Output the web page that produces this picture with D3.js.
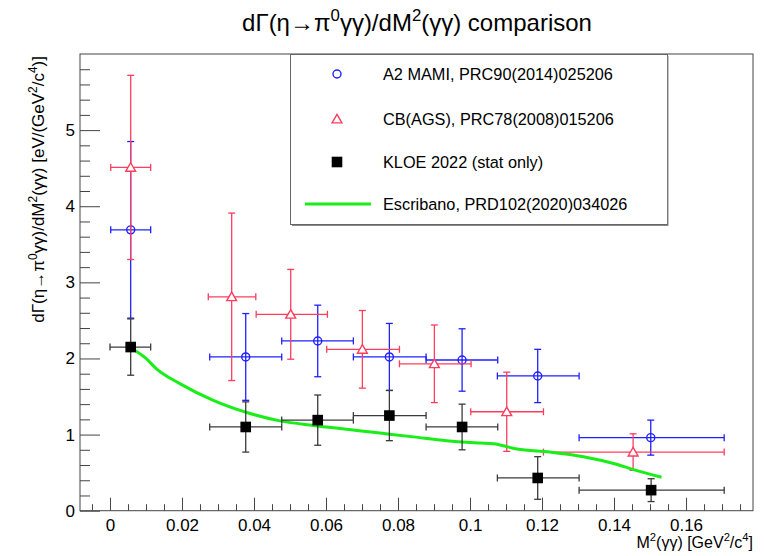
<!DOCTYPE html>
<html>
<head>
<meta charset="utf-8">
<script src="https://cdn.jsdelivr.net/npm/d3@7"></script>
<style>
  body { margin: 0; background: #fff; }
  text { font-family: "Liberation Sans", Arial, Helvetica, sans-serif; fill: #000; }
</style>
</head>
<body>
<div id="chart"></div>
<script>
const width = 765;
const height = 556;

// A2 MAMI, PRC90(2014)025206
const a2X = [0.00575, 0.0377, 0.0577, 0.0776, 0.0978, 0.1188, 0.1502];
const a2Y = [3.69, 2.02, 2.23, 2.02, 1.98, 1.77, 0.96];
const a2XLo = [0.0002, 0.0277, 0.0477, 0.0676, 0.0878, 0.1076, 0.1303];
const a2XHi = [0.0113, 0.0477, 0.0676, 0.0878, 0.1077, 0.1303, 0.1706];
const a2YErr = [1.16, 0.57, 0.47, 0.44, 0.41, 0.35, 0.23];

// CB(AGS), PRC78(2008)015206
const cbX = [0.00575, 0.0338, 0.0502, 0.0701, 0.0901, 0.1102, 0.1453];
const cbY = [4.51, 2.81, 2.58, 2.12, 1.93, 1.30, 0.77];
const cbXLo = [0.0002, 0.0273, 0.0406, 0.0602, 0.0804, 0.1002, 0.1204];
const cbXHi = [0.0113, 0.0405, 0.0604, 0.0804, 0.1003, 0.1204, 0.1706];
const cbYErr = [1.21, 1.10, 0.59, 0.51, 0.51, 0.52, 0.24];

// KLOE 2022 (stat only)
const kloeX = [0.00575, 0.0377, 0.0577, 0.0776, 0.0978, 0.1188, 0.1503];
const kloeY = [2.15, 1.10, 1.19, 1.25, 1.10, 0.43, 0.27];
const kloeXLo = [0.0, 0.0277, 0.0477, 0.0676, 0.0878, 0.1076, 0.1303];
const kloeXHi = [0.0113, 0.0477, 0.0676, 0.0878, 0.1077, 0.1303, 0.1706];
const kloeYErr = [0.37, 0.33, 0.33, 0.33, 0.30, 0.28, 0.15];

// Escribano, PRD102(2020)034026
const theoryX = [0.0057, 0.010, 0.013, 0.0194, 0.0287, 0.038, 0.0472, 0.0565, 0.0657, 0.075,
  0.0843, 0.0935, 0.1028, 0.1065, 0.113, 0.1222, 0.1315, 0.1407, 0.1454, 0.1532];
const theoryY = [2.14, 2.00, 1.86, 1.67, 1.45, 1.29, 1.18, 1.12, 1.07, 1.02,
  0.97, 0.92, 0.89, 0.88, 0.81, 0.77, 0.71, 0.61, 0.54, 0.44];

const xMajorTicks = [0, 0.02, 0.04, 0.06, 0.08, 0.1, 0.12, 0.14, 0.16];
const xTickLabels = ['0', '0.02', '0.04', '0.06', '0.08', '0.1', '0.12', '0.14', '0.16'];
const yMajorTicks = [0, 1, 2, 3, 4, 5];

const legendLabels = ['A2 MAMI, PRC90(2014)025206', 'CB(AGS), PRC78(2008)015206',
  'KLOE 2022 (stat only)', 'Escribano, PRD102(2020)034026'];

const blue = '#2020ff';
const red = '#ff3d5f';
const grey = '#3a3a3a';
const green = '#19ee19';

const frame = { left: 80, right: 753, top: 54, bottom: 510.7 };

const x = d3.scaleLinear().domain([-0.00833, 0.1786]).range([frame.left, frame.right]);
const y = d3.scaleLinear().domain([0, 6]).range([frame.bottom, frame.top]);

const svg = d3.select('#chart')
  .append('svg')
    .attr('width', width)
    .attr('height', height);

// text with superscripts: parts = [[string, isSup], ...]
function rich(sel, parts, size) {
  const shift = size * 0.42;
  let up = false;
  parts.forEach(([s, sup]) => {
    const t = sel.append('tspan').text(s);
    if (sup) {
      t.attr('font-size', size * 0.7).attr('dy', -shift);
      up = true;
    } else if (up) {
      t.attr('dy', shift);
      up = false;
    }
  });
  return sel;
}

// title
rich(svg.append('text')
    .attr('x', 417)
    .attr('y', 31)
    .attr('text-anchor', 'middle')
    .attr('font-size', 24),
  [['dΓ(η→π'], ['0', true], ['γγ)/dM'], ['2', true], ['(γγ) comparison']], 24);

// minor ticks
const xMinor = d3.range(-0.005, 0.1751, 0.005).filter(v => Math.abs(v / 0.02 - Math.round(v / 0.02)) > 1e-6);
const yMinor = d3.range(0.2, 5.9, 0.2).filter(v => Math.abs(v - Math.round(v)) > 1e-6);

svg.append('g')
  .attr('transform', `translate(0,${frame.bottom})`)
  .call(d3.axisBottom(x).tickValues(xMinor).tickSize(-6.5).tickFormat(''));
svg.append('g')
  .attr('transform', `translate(0,${frame.bottom})`)
  .call(d3.axisBottom(x).tickValues(xMajorTicks).tickSize(-13).tickPadding(8)
    .tickFormat((d, i) => xTickLabels[i]));

svg.append('g')
  .attr('transform', `translate(${frame.left},0)`)
  .call(d3.axisLeft(y).tickValues(yMinor).tickSize(-10).tickFormat(''));
svg.append('g')
  .attr('transform', `translate(${frame.left},0)`)
  .call(d3.axisLeft(y).tickValues(yMajorTicks).tickSize(-20).tickPadding(5)
    .tickFormat(d3.format('d')));

svg.selectAll('.domain').remove();
svg.selectAll('.tick line').attr('stroke', '#444');
svg.selectAll('.tick text')
  .attr('font-family', '"Liberation Sans", Arial, sans-serif')
  .attr('font-size', 17)
  .attr('fill', '#000');

// frame
svg.append('rect')
  .attr('x', frame.left)
  .attr('y', frame.top)
  .attr('width', frame.right - frame.left)
  .attr('height', frame.bottom - frame.top)
  .attr('fill', 'none')
  .attr('stroke', '#444');

// axis titles
rich(svg.append('text')
    .attr('transform', `translate(44,56) rotate(-90)`)
    .attr('text-anchor', 'end')
    .attr('font-size', 17),
  [['dΓ(η→π'], ['0', true], ['γγ)/dM'], ['2', true], ['(γγ) [eV/(GeV'], ['2', true], ['/c'], ['4', true], [')]']], 17);

rich(svg.append('text')
    .attr('x', 753)
    .attr('y', 548)
    .attr('text-anchor', 'end')
    .attr('font-size', 16),
  [['M'], ['2', true], ['(γγ) [GeV'], ['2', true], ['/c'], ['4', true], [']']], 16);

// legend box
const legend = svg.append('g');
legend.append('rect')
  .attr('x', 290.5).attr('y', 54.5)
  .attr('width', 377).attr('height', 170)
  .attr('fill', '#fff')
  .attr('stroke', '#666');
legend.append('line')
  .attr('x1', 668).attr('x2', 668).attr('y1', 56).attr('y2', 226)
  .attr('stroke', '#888');
legend.append('line')
  .attr('x1', 292).attr('x2', 668).attr('y1', 225.5).attr('y2', 225.5)
  .attr('stroke', '#888');

const legendY = [74, 119, 162, 204];
legend.selectAll('text.entry')
  .data(legendLabels)
  .join('text')
    .attr('class', 'entry')
    .attr('x', 383)
    .attr('y', (d, i) => legendY[i])
    .attr('dy', '0.36em')
    .attr('font-size', 16.3)
    .text(d => d);

// markers
const triangle = d3.symbol().type(d3.symbolTriangle).size(42);

function drawMarker(g, kind, cx, cy) {
  if (kind === 'circle') {
    g.append('circle').attr('cx', cx).attr('cy', cy).attr('r', 4)
      .attr('fill', 'none').attr('stroke', blue).attr('stroke-width', 1.4);
  } else if (kind === 'triangle') {
    g.append('path').attr('d', triangle)
      .attr('transform', `translate(${cx},${cy + 1})`)
      .attr('fill', '#fff').attr('stroke', red).attr('stroke-width', 1.4);
  } else {
    g.append('rect').attr('x', cx - 5.3).attr('y', cy - 5.3)
      .attr('width', 10.6).attr('height', 10.6).attr('fill', '#000');
  }
}

drawMarker(legend, 'circle', 337, legendY[0]);
drawMarker(legend, 'triangle', 337, legendY[1]);
drawMarker(legend, 'square', 337, legendY[2]);
legend.append('line')
  .attr('x1', 305).attr('x2', 371)
  .attr('y1', legendY[3]).attr('y2', legendY[3])
  .attr('stroke', green).attr('stroke-width', 3);

// data series with error bars
function drawSeries(xs, ys, xlo, xhi, yerr, color, kind) {
  const g = svg.append('g');
  const cap = 3.5;
  xs.forEach((xv, i) => {
    const cx = x(xv), cy = y(ys[i]);
    const x0 = x(xlo[i]), x1 = x(xhi[i]);
    const y0 = y(ys[i] - yerr[i]), y1 = y(ys[i] + yerr[i]);
    const lines = [
      [x0, cy, x1, cy], [cx, y0, cx, y1],
      [x0, cy - cap, x0, cy + cap], [x1, cy - cap, x1, cy + cap],
      [cx - cap, y0, cx + cap, y0], [cx - cap, y1, cx + cap, y1]
    ];
    g.selectAll(null)
      .data(lines)
      .join('line')
        .attr('x1', d => d[0]).attr('y1', d => d[1])
        .attr('x2', d => d[2]).attr('y2', d => d[3])
        .attr('stroke', color)
        .attr('stroke-width', 1.3);
  });
  xs.forEach((xv, i) => drawMarker(g, kind, x(xv), y(ys[i])));
}

drawSeries(a2X, a2Y, a2XLo, a2XHi, a2YErr, blue, 'circle');
drawSeries(cbX, cbY, cbXLo, cbXHi, cbYErr, red, 'triangle');

// theory curve
const line = d3.line()
  .x(d => x(d[0]))
  .y(d => y(d[1]))
  .curve(d3.curveMonotoneX);
svg.append('path')
  .datum(d3.zip(theoryX, theoryY))
  .attr('d', line)
  .attr('fill', 'none')
  .attr('stroke', green)
  .attr('stroke-width', 3);

drawSeries(kloeX, kloeY, kloeXLo, kloeXHi, kloeYErr, grey, 'square');
</script>
</body>
</html>
